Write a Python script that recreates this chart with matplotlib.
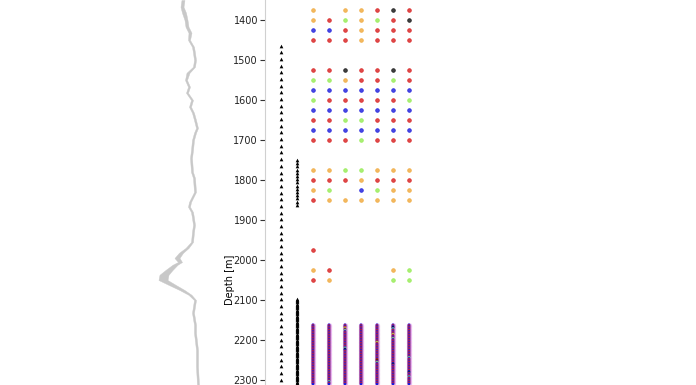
import numpy as np
import matplotlib
matplotlib.use('Agg')
import matplotlib.pyplot as plt

# Colour codes used in the sample table
palette = {'R': '#d81e1e', 'O': '#f0a83a', 'G': '#94ec52', 'B': '#1c1cdc', 'K': '#111111'}

# Sparse sample rows: depth and code for each of the 7 sample columns ('.' = no sample)
row_depths = [1375, 1400, 1425, 1450, 1525, 1550, 1575, 1600, 1625, 1650, 1675, 1700,
              1775, 1800, 1825, 1850, 1975, 2025, 2050]
row_codes = ['O.OORKR', 'ORGOGRK', 'BBRORRR', 'RRRORRR', 'RRKRRKR', 'GGORRGR', 'BBBBBBB',
             'GRRRRRG', 'BBBBBBB', 'RRGGRRR', 'BBBBBBB', 'RRRGRRR', 'OOGGOOO', 'RRRORRR',
             'OG.BGOO', 'ROOOOOO', 'R......', 'OR...OG', 'RO...GG']

# Dense sampled interval (every 2 m from 2162 m)
dense_top, dense_step = 2162, 2
dense_codes = [
    'BRBRBRBRBRBRBRBRBRBRBRBRB' 'RBRBRBRBRBRBRBRBRBRBRBRBR' 'BRBRBRBRBRBRBRBRBRBRBRBRB',
    'BRBRBRBRBRBRBRBRBRBRBRBRB' 'RBRBRBRBRBRBRBRBRBRBRBRBR' 'BRBRBRBRBRBRBRBRBRBRBGBRB',
    'BRBRGRBGBRBRBRBRBRBRBRBRB' 'RBRBGBKBRBRBRBRBRBRBRBRBR' 'BRBRBRBRBRBRBRBRBRBRBRBRB',
    'BRBRBRBRBRBRBRBRBRBRBRBRB' 'RBRBRBRBRBRBRBRBRBRBRBRBR' 'BRBRBRBRBRBRBRBRBRBRBRBRB',
    'BRBRBRBRBRBRBRBRBRBRBRGRB' 'RBRBRBRBRBRBRBRBRBRKRBGBR' 'BRBRBRBRBRBRBRBRBRBRBRBRB',
    'BRBKBGBRBRBRGRBRBGBRBRBRB' 'RBRBRBRBRBRBRBRBRBRBRBRBK' 'BRBRBRBRBRBRBRBRBRBRBRBRB',
    'BRBRBRBRBRBRBRBRBRBRBRBRB' 'RBRBRBRBRBRBRBRBGBRBRBRBR' 'BRBRBRBRBKBRBRBGBRBRBRBRB',
]

# Core markers (triangles): depths of the two columns
core1_depths = np.arange(1464, 2315, 16.7)
core2_depths = np.concatenate([np.arange(1750, 1863, 8.0), np.arange(2097, 2315, 3.0)])

# Log curve on the left: depth, centre value and band width
log_depth = [1350, 1367, 1382, 1400, 1417, 1432, 1450, 1467, 1482, 1500, 1517, 1532, 1550,
             1567, 1582, 1600, 1617, 1632, 1650, 1670, 1682, 1700, 1725, 1745, 1780, 1795,
             1830, 1855, 1867, 1880, 1895, 1912, 1930, 1955, 1970, 1982, 1995, 2005, 2012,
             2025, 2037, 2050, 2062, 2075, 2087, 2100, 2132, 2162, 2182, 2225, 2267, 2312]
log_value = [83, 82, 84, 86, 87, 90, 89, 93, 94, 95, 94, 88, 86,
             89, 87, 92, 90, 93, 95, 97, 95, 93, 92, 91, 92, 94,
             95, 90, 89, 92, 93, 94, 93, 92, 87, 81, 77, 80, 75,
             69, 64, 63, 72, 82, 90, 95, 93, 95, 95, 97, 97, 98]
log_width = [3, 3, 4, 3, 3, 3, 2, 2, 2, 2, 2, 3, 2,
             2, 2, 2, 2, 2, 2, 2, 2, 2, 2, 2, 2, 2,
             2, 2, 2, 2, 2, 2, 2, 2, 3, 4, 5, 4, 5,
             7, 9, 9, 7, 5, 3, 2, 2, 2, 2, 2, 2, 2]

depth_ticks = [1400, 1500, 1600, 1700, 1800, 1900, 2000, 2100, 2200, 2300]
ylim = (2312.5, 1350)

fig = plt.figure(figsize=(6.96, 3.85), dpi=100)

# Log track
lax = fig.add_axes([100 / 696, 0, 140 / 696, 1])
lv = np.array(log_value)
lw = np.array(log_width)
lax.fill_betweenx(log_depth, lv - lw / 2, lv + lw / 2, color='#c8c8c8', lw=0.3, edgecolor='#c8c8c8')
lax.set_xlim(0, 140)
lax.set_ylim(*ylim)
lax.axis('off')

# Sample track
ax = fig.add_axes([265 / 696, 0, 176 / 696, 1])
ax.scatter(np.zeros(len(core1_depths)), core1_depths, marker='^', s=7, color='black', lw=0)
ax.scatter(np.ones(len(core2_depths)), core2_depths, marker='^', s=7, color='black', lw=0)

for d, codes in zip(row_depths, row_codes):
    for i, c in enumerate(codes):
        if c == '.':
            continue
        ax.scatter(2 + i, d, s=7, color=palette[c], lw=0.6, edgecolor=palette[c], alpha=0.8)

for i, codes in enumerate(dense_codes):
    depths = dense_top + dense_step * np.arange(len(codes))
    cols = [palette[c] for c in codes]
    ax.scatter(np.full(len(codes), 2 + i), depths, s=14, color='#e8b0ee', lw=0, alpha=0.5)
    ax.scatter(np.full(len(codes), 2 + i), depths, s=4, c=cols, lw=0)

ax.set_xlim(-1, 10)
ax.set_ylim(*ylim)
ax.set_xticks([])
ax.set_yticks(depth_ticks)
ax.tick_params(axis='y', labelsize=7, length=3.5, width=0.8, color='#333333', labelcolor='#222222', pad=1.5)
for s in ['top', 'right', 'bottom']:
    ax.spines[s].set_visible(False)
ax.spines['left'].set_color('#d0d0d0')
ax.set_ylabel('Depth [m]', fontsize=7)
ax.yaxis.set_label_coords(-0.172, 0.273)

fig.savefig('out.png', dpi=100)
